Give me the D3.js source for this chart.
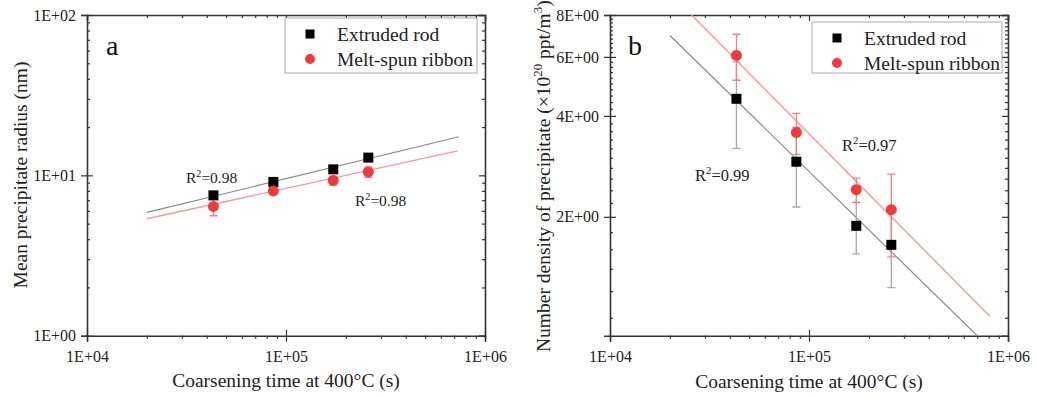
<!DOCTYPE html>
<html><head><meta charset="utf-8">
<script src="https://cdn.jsdelivr.net/npm/d3@7"></script>
<style>
body{margin:0;background:#fff;}
svg{font-family:"Liberation Serif","Times New Roman",serif;}
</style></head>
<body>
<svg id="c" width="1037" height="398"></svg>
<script>
// ---------- data ----------
const times = [43200, 86400, 172800, 259200];
const seriesNames = ["Extruded rod", "Melt-spun ribbon"];
// panel a: mean precipitate radius (nm)
const radiusRod = [7.5, 9.1, 10.9, 12.9];
const radiusRodErr = [0.4, 0.4, 0.3, 0.4];
const radiusRibbon = [6.4, 8.0, 9.3, 10.5];
const radiusRibbonErr = [0.8, 0.4, 0.6, 0.8];
const fitRadiusRod = [[2e4, 5.87], [7.4e5, 17.4]];
const fitRadiusRibbon = [[2e4, 5.36], [7.3e5, 14.2]];
const r2RadiusRod = "0.98", r2RadiusRibbon = "0.98";
// panel b: number density (x10^20 ppt/m^3)
const densityRod = [4.5, 2.92, 1.88, 1.65];
const densityRodErr = [1.3, 0.78, 0.33, 0.42];
const densityRibbon = [6.06, 3.57, 2.41, 2.10];
const densityRibbonErr = [0.95, 0.5, 0.2, 0.58];
const fitDensityRod = [[2e4, 6.95], [7.0e5, 0.884]];
const fitDensityRibbon = [[2.57e4, 8.0], [8.1e5, 1.01]];
const r2DensityRod = "0.99", r2DensityRibbon = "0.97";
// ticks
const xTicks = [1e4, 1e5, 1e6];
const xTickLabels = ["1E+04", "1E+05", "1E+06"];
const yTicksA = [1, 10, 100];
const yTickLabelsA = ["1E+00", "1E+01", "1E+02"];
const yTicksB = [2, 4, 6, 8];
const yTickLabelsB = ["2E+00", "4E+00", "6E+00", "8E+00"];

// ---------- drawing ----------
const svg = d3.select("#c");
const BLACK = "#000", RED = "#f23a3a";
const FIT_BLACK = "#8a8a8a", FIT_RED = "#f59a9a";
const ERR_BLACK = "#a8a8a8", ERR_RED = "#f47f7f";
const AXIS = "#333";

function xMinor(){ const a=[]; for(let d=1e4; d<1e6; d*=10) for(let k=2;k<=9;k++) a.push(k*d); return a; }
function yMinorLog(lo,hi){ const a=[]; for(let d=lo; d<hi; d*=10) for(let k=2;k<=9;k++) a.push(k*d); return a; }

function panel(cfg){
  const g = svg.append("g");
  const x = d3.scaleLog().domain([1e4,1e6]).range([cfg.x0, cfg.x1]);
  const y = d3.scaleLog().domain(cfg.yDomain).range([cfg.y1, cfg.y0]);
  const fmtX = d => xTickLabels[xTicks.indexOf(d)];
  const fmtY = d => cfg.yLabels[cfg.yTicks.indexOf(d)];

  // clip
  const cid = "clip"+cfg.id;
  svg.append("clipPath").attr("id",cid).append("rect")
    .attr("x",cfg.x0).attr("y",cfg.y0).attr("width",cfg.x1-cfg.x0).attr("height",cfg.y1-cfg.y0);

  // axes: bottom
  const bot = g.append("g").attr("transform",`translate(0,${cfg.y1})`);
  bot.call(d3.axisBottom(x).tickValues(xTicks).tickFormat(fmtX).tickSize(6).tickPadding(6));
  bot.append("g").call(d3.axisBottom(x).tickValues(xMinor()).tickFormat("").tickSize(3)).select(".domain").remove();
  bot.selectAll("g.tick").filter(d=>xTicks.includes(d)).append("line").attr("y2",-6).attr("stroke",AXIS);
  // top
  const top = g.append("g").attr("transform",`translate(0,${cfg.y0})`);
  top.call(d3.axisBottom(x).tickValues(xTicks).tickFormat("").tickSize(6));
  top.append("g").call(d3.axisBottom(x).tickValues(xMinor()).tickFormat("").tickSize(3)).select(".domain").remove();
  // left
  const left = g.append("g").attr("transform",`translate(${cfg.x0},0)`);
  left.call(d3.axisLeft(y).tickValues(cfg.yTicks).tickFormat(fmtY).tickSize(6).tickPadding(5));
  left.append("g").call(d3.axisRight(y).tickValues(cfg.yMinor).tickFormat("").tickSize(3)).select(".domain").remove();
  left.selectAll("g.tick").filter(d=>cfg.yTicks.includes(d)).append("line").attr("x2",6).attr("stroke",AXIS);
  // right
  const right = g.append("g").attr("transform",`translate(${cfg.x1},0)`);
  right.call(d3.axisLeft(y).tickValues(cfg.yTicks).tickFormat("").tickSize(6));
  right.append("g").call(d3.axisLeft(y).tickValues(cfg.yMinor).tickFormat("").tickSize(3)).select(".domain").remove();

  g.selectAll(".domain").attr("stroke",AXIS).attr("stroke-width",1.6);
  g.selectAll(".tick line").attr("stroke",AXIS).attr("stroke-width",1.2);
  g.selectAll(".tick text").attr("font-family","Liberation Serif").attr("font-size",16).attr("fill","#222");
  bot.selectAll(".tick text").attr("dy","0.9em");

  // fit lines
  const line = d3.line().x(d=>x(d[0])).y(d=>y(d[1]));
  const pl = g.append("g").attr("clip-path",`url(#${cid})`);
  pl.append("path").attr("d",line(cfg.fitRod)).attr("fill","none").attr("stroke",FIT_BLACK).attr("stroke-width",1.2);
  pl.append("path").attr("d",line(cfg.fitRib)).attr("fill","none").attr("stroke",FIT_RED).attr("stroke-width",1.4);

  // error bars
  function errs(vals, e, color){
    const eg = pl.append("g").attr("stroke",color).attr("stroke-width",1.3);
    times.forEach((t,i)=>{
      const cx=x(t), ya=y(vals[i]+e[i]), yb=y(vals[i]-e[i]);
      eg.append("line").attr("x1",cx).attr("x2",cx).attr("y1",ya).attr("y2",yb);
      eg.append("line").attr("x1",cx-4).attr("x2",cx+4).attr("y1",ya).attr("y2",ya);
      eg.append("line").attr("x1",cx-4).attr("x2",cx+4).attr("y1",yb).attr("y2",yb);
    });
  }
  errs(cfg.rod, cfg.rodErr, ERR_BLACK);
  errs(cfg.rib, cfg.ribErr, ERR_RED);

  // markers
  pl.selectAll(null).data(cfg.rod).enter().append("rect")
    .attr("x",(d,i)=>x(times[i])-5).attr("y",d=>y(d)-5).attr("width",10).attr("height",10).attr("fill",BLACK);
  pl.selectAll(null).data(cfg.rib).enter().append("circle")
    .attr("cx",(d,i)=>x(times[i])).attr("cy",d=>y(d)).attr("r",5.5).attr("fill",RED);

  // legend
  const lg = g.append("g");
  lg.append("rect").attr("x",cfg.legX).attr("y",cfg.legY).attr("width",cfg.legW).attr("height",cfg.legH)
    .attr("fill","#fff").attr("stroke","#aaa").attr("stroke-width",1);
  const mx = cfg.legX+25;
  lg.append("rect").attr("x",mx-4.5).attr("y",cfg.legY+16-4.5).attr("width",9).attr("height",9).attr("fill",BLACK);
  lg.append("circle").attr("cx",mx).attr("cy",cfg.legY+41).attr("r",5).attr("fill",RED);
  lg.append("text").attr("x",cfg.legX+52).attr("y",cfg.legY+23).attr("font-size",19.5).attr("fill","#222").text(seriesNames[0]);
  lg.append("text").attr("x",cfg.legX+52).attr("y",cfg.legY+48).attr("font-size",19.5).attr("fill","#222").text(seriesNames[1]);

  // panel letter
  g.append("text").attr("x",cfg.letterX).attr("y",55).attr("font-size",28).attr("fill","#111").text(cfg.letter);

  // R^2 labels
  cfg.r2.forEach(r=>{
    const t = g.append("text").attr("x",r.x).attr("y",r.y).attr("font-size",r.fs).attr("fill","#222");
    t.append("tspan").text("R");
    t.append("tspan").attr("font-size",r.fs*0.65).attr("dy",-r.fs*0.4).text("2");
    t.append("tspan").attr("dy",r.fs*0.4).text("="+r.v);
  });

  // axis titles
  g.append("text").attr("x",(cfg.x0+cfg.x1)/2).attr("y",cfg.xTitleY).attr("text-anchor","middle")
    .attr("font-size",19.5).attr("fill","#222").text("Coarsening time at 400°C (s)");
  const yt = g.append("text").attr("transform",`translate(${cfg.yTitleX},${cfg.yTitleY}) rotate(-90)`)
    .attr("text-anchor",cfg.yTitleAnchor).attr("font-size",19.5).attr("fill","#222");
  cfg.yTitle(yt);
}

panel({
  id:"a", x0:87, x1:485, y0:15, y1:335.7, yDomain:[1,100],
  yTicks:yTicksA, yLabels:yTickLabelsA, yMinor:yMinorLog(1,100),
  rod:radiusRod, rodErr:radiusRodErr, rib:radiusRibbon, ribErr:radiusRibbonErr,
  fitRod:fitRadiusRod, fitRib:fitRadiusRibbon,
  legX:285, legY:18, legW:192, legH:55, letter:"a", letterX:106,
  r2:[{x:186,y:183,fs:15.5,v:r2RadiusRod},{x:355,y:206,fs:15.5,v:r2RadiusRibbon}],
  xTitleY:387, yTitleX:27, yTitleY:175, yTitleAnchor:"middle",
  yTitle: t=>t.text("Mean precipitate radius (nm)")
});

const minorB = d3.range(10, 80, 2).map(v=>v/10).filter(v=>!yTicksB.includes(v));
panel({
  id:"b", x0:610, x1:1008, y0:15, y1:335.7, yDomain:[0.884,8],
  yTicks:yTicksB, yLabels:yTickLabelsB, yMinor:minorB,
  rod:densityRod, rodErr:densityRodErr, rib:densityRibbon, ribErr:densityRibbonErr,
  fitRod:fitDensityRod, fitRib:fitDensityRibbon,
  legX:812, legY:22, legW:190, legH:51, letter:"b", letterX:628,
  r2:[{x:695,y:181,fs:16.5,v:r2DensityRod},{x:842,y:151,fs:16.5,v:r2DensityRibbon}],
  xTitleY:388, yTitleX:550, yTitleY:352, yTitleAnchor:"start",
  yTitle: t=>{
    t.append("tspan").text("Number density of precipitate (×10");
    t.append("tspan").attr("font-size",13).attr("dy",-8).text("20");
    t.append("tspan").attr("dy",8).text(" ppt/m");
    t.append("tspan").attr("font-size",13).attr("dy",-8).text("3");
    t.append("tspan").attr("dy",8).text(")");
  }
});
</script>
</body></html>
